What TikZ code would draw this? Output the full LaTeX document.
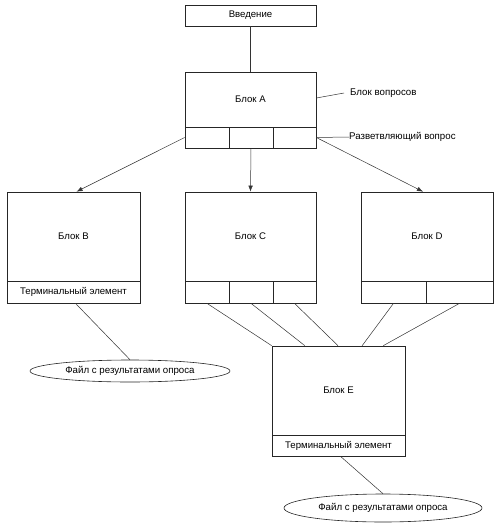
\documentclass[tikz,border=0pt]{standalone}
\usepackage{fontspec}
\setmainfont{Liberation Sans}
\usetikzlibrary{arrows.meta,calc,shapes.geometric}
\begin{document}
\begin{tikzpicture}[x=1pt,y=-1pt,
  box/.style={draw=black!85,line width=0.7pt,inner sep=0pt,font=\fontsize{9.6}{11}\selectfont},
  oval/.style={draw=black!85,line width=0.6pt,ellipse,inner sep=0pt,font=\fontsize{9.7}{11}\selectfont},
  lbl/.style={inner sep=0pt,anchor=west,font=\fontsize{9.7}{11}\selectfont},
  conn/.style={draw=black!80,line width=0.5pt},
  arr/.style={conn,-{Latex[length=6pt,width=4.5pt]}}]
\useasboundingbox (0,0) rectangle (497,532);
% Введение
\node[box,minimum width=131pt,minimum height=21pt] (intro) at (250.5,15.5) {Введение};
% Block A
\node[box,minimum width=131pt,minimum height=55pt] (Aup) at (250.5,99.5) {Блок A};
\node[box,minimum width=44pt,minimum height=21pt] (A1) at (207,137.5) {};
\node[box,minimum width=44pt,minimum height=21pt] (A2) at (251,137.5) {};
\node[box,minimum width=43pt,minimum height=21pt] (A3) at (294.5,137.5) {};
% Block B
\node[box,minimum width=133pt,minimum height=89pt] (Bup) at (73.5,236.5) {Блок B};
\node[box,minimum width=133pt,minimum height=22pt] (Bt) at (73.5,292) {Терминальный элемент};
% Block C
\node[box,minimum width=131pt,minimum height=89pt] (Cup) at (250.5,236.5) {Блок C};
\node[box,minimum width=44pt,minimum height=22pt] (C1) at (207,292) {};
\node[box,minimum width=44pt,minimum height=22pt] (C2) at (251,292) {};
\node[box,minimum width=43pt,minimum height=22pt] (C3) at (294.5,292) {};
% Block D
\node[box,minimum width=132pt,minimum height=89pt] (Dup) at (427,236.5) {Блок D};
\node[box,minimum width=65pt,minimum height=22pt] (D1) at (393.5,292) {};
\node[box,minimum width=67pt,minimum height=22pt] (D2) at (459.5,292) {};
% Block E
\node[box,minimum width=133pt,minimum height=89pt] (Eup) at (338.5,390.5) {Блок E};
\node[box,minimum width=133pt,minimum height=21pt] (Et) at (338.5,445.5) {Терминальный элемент};
% Files
\node[oval,minimum width=200pt,minimum height=22pt] (F1) at (130,371) {Файл с результатами опроса};
\node[oval,minimum width=198pt,minimum height=28pt] (F2) at (383,508) {Файл с результатами опроса};
% Labels
\node[lbl] (L1) at (350,93) {Блок вопросов};
\node[lbl] (L2) at (349,137) {Разветвляющий вопрос};
\coordinate (L1a) at (344,93);
\draw[conn] (Aup.east |- 0,98) -- (L1a);
\draw[conn] (A3.east) -- (L2.west);
% connectors
\draw[conn] (intro.south) -- (Aup.north);
\draw[arr] (A1.west) -- ($(Bup.north)+(3,0)$);
\draw[arr] (A2.south) -- (Cup.north);
\draw[arr] (A3.east) -- ($(Dup.north)+(-4,0)$);
\draw[conn] ($(Bt.south)+(2,0)$) -- (F1.north);
\draw[conn] ($(Et.south)+(2,0)$) -- (F2.north);
\coordinate (e1) at ($(Eup.north west)!0.248!(Eup.north east)$);
\coordinate (e2) at ($(Eup.north west)!0.496!(Eup.north east)$);
\coordinate (e3) at ($(Eup.north west)!0.677!(Eup.north east)$);
\coordinate (e4) at ($(Eup.north west)!0.835!(Eup.north east)$);
\draw[conn] (C1.south) -- (Eup.north west);
\draw[conn] (C2.south) -- (e1);
\draw[conn] (C3.south) -- (e2);
\draw[conn] (D1.south) -- (e3);
\draw[conn] (D2.south) -- (e4);
\end{tikzpicture}
\end{document}
